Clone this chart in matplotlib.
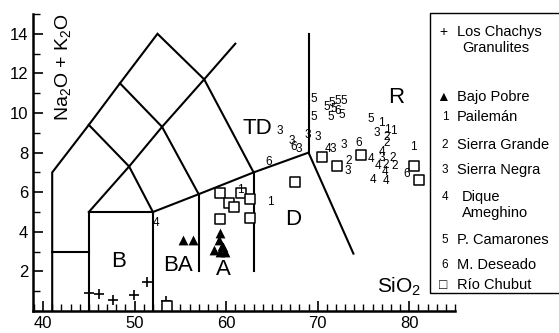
import matplotlib
matplotlib.use("Agg")
import matplotlib.pyplot as plt
from matplotlib.patches import Rectangle
from matplotlib.ticker import MultipleLocator

plt.rcParams['font.family'] = ['Liberation Sans', 'DejaVu Sans']
plt.rcParams['mathtext.fontset'] = 'custom'
plt.rcParams['mathtext.rm'] = 'Liberation Sans'
plt.rcParams['mathtext.it'] = 'Liberation Sans'

# TAS field boundaries (SiO2, Na2O+K2O)
tas_lines = [
    [(41, 0), (41, 7), (45, 9.4), (48.4, 11.5), (52.5, 14), (57.6, 11.7), (63, 7)],
    [(41, 3), (45, 3)],
    [(45, 0), (45, 5), (52, 5), (52, 0)],
    [(45, 5), (49.4, 7.3), (53, 9.3), (57.6, 11.7), (61, 13.5)],
    [(45, 9.4), (49.4, 7.3), (52, 5)],
    [(48.4, 11.5), (53, 9.3), (57, 5.9)],
    [(52, 5), (57, 5.9), (63, 7), (69, 8)],
    [(57, 5.9), (57, 2)],
    [(63, 7), (63, 2)],
    [(69, 8), (69, 14)],
    [(69, 8), (73.9, 2.9)],
]

field_names = ['B', 'BA', 'A', 'D', 'TD', 'R']
field_x = [48.2, 54.7, 59.7, 67.3, 63.4, 78.6]
field_y = [2.5, 2.3, 2.1, 4.6, 9.2, 10.8]

# Los Chachys Granulites (+)
chachys_x = [45.0, 46.1, 47.6, 49.9, 51.4, 53.4]
chachys_y = [0.9, 0.85, 0.55, 0.8, 1.45, 0.5]

# Bajo Pobre (triangles)
bajo_x = [55.3, 56.4, 59.3, 59.2, 59.6, 58.7, 59.9, 59.3, 59.7]
bajo_y = [3.6, 3.6, 3.95, 3.6, 3.3, 3.1, 3.0, 3.0, 3.25]

# Rio Chubut (squares)
chubut_x = [53.5, 59.3, 60.3, 60.9, 61.6, 62.6, 59.3, 62.6, 67.5, 70.5, 72.1, 74.7, 80.5, 81.1]
chubut_y = [0.25, 5.97, 5.47, 5.27, 5.97, 5.67, 4.66, 4.7, 6.5, 7.8, 7.3, 7.9, 7.3, 6.6]

# numbered groups
pailleman_x = [77.0, 77.6, 78.3, 80.5, 64.8, 61.5]
pailleman_y = [9.5, 9.15, 9.1, 8.3, 5.5, 6.1]
sgrande_x = [77.5, 77.5, 73.4, 78.2, 78.4, 77.4]
sgrande_y = [8.8, 8.5, 7.6, 7.75, 7.3, 7.35]
snegra_x = [65.9, 67.2, 67.9, 68.9, 70.0, 71.7, 72.8, 73.3, 76.5, 77.0]
snegra_y = [9.1, 8.6, 8.2, 8.9, 8.8, 8.2, 8.4, 7.05, 9.0, 7.75]
dique_x = [52.3, 71.1, 75.8, 77.0, 76.6, 77.3, 76.0, 77.5]
dique_y = [4.45, 8.2, 7.7, 8.05, 7.3, 7.0, 6.6, 6.55]
camarones_x = [69.6, 69.6, 71.5, 72.2, 72.9, 71.0, 71.8, 71.4, 72.6, 75.8]
camarones_y = [10.7, 9.8, 10.5, 10.6, 10.6, 10.3, 10.2, 9.8, 9.9, 9.7]
deseado_x = [64.7, 67.4, 74.5, 72.2, 79.7]
deseado_y = [7.55, 8.3, 8.5, 10.1, 6.9]

numbered = [('1', pailleman_x, pailleman_y), ('2', sgrande_x, sgrande_y),
            ('3', snegra_x, snegra_y), ('4', dique_x, dique_y),
            ('5', camarones_x, camarones_y), ('6', deseado_x, deseado_y)]

legend_labels = ['+', 'Los Chachys', 'Granulites', '\u25b2', 'Bajo Pobre',
                 '1', 'Pailemán', '2', 'Sierra Grande', '3', 'Sierra Negra',
                 '4', 'Dique', 'Ameghino', '5', 'P. Camarones', '6', 'M. Deseado',
                 '\u25a1', 'Río Chubut']

fig = plt.figure(figsize=(5.59, 3.33), dpi=100)
ax = fig.add_axes([0.059, 0.066, 0.755, 0.892])

for seg in tas_lines:
    xs = [p[0] for p in seg]
    ys = [p[1] for p in seg]
    ax.plot(xs, ys, color='black', lw=1.5, solid_joinstyle='miter')

for name, x, y in zip(field_names, field_x, field_y):
    ax.text(x, y, name, fontsize=16, ha='center', va='center')

ax.scatter(chachys_x, chachys_y, marker='+', s=50, c='black', linewidths=1.2)
ax.scatter(bajo_x, bajo_y, marker='^', s=50, c='black', linewidths=0)
ax.scatter(chubut_x, chubut_y, marker='s', s=48, facecolors='white',
           edgecolors='black', linewidths=1.1, zorder=3)

for lab, xs, ys in numbered:
    for x, y in zip(xs, ys):
        ax.text(x, y, lab, fontsize=8.5, ha='center', va='center', zorder=4)

ax.text(42.2, 12.3, r'Na$_2$O + K$_2$O', rotation=90, fontsize=14,
        ha='center', va='center')
ax.text(78.9, 1.2, r'SiO$_2$', fontsize=15, ha='center', va='center')

ax.set_xlim(38.9, 85)
ax.set_ylim(0, 15)
ax.spines['top'].set_visible(False)
ax.spines['right'].set_visible(False)
ax.spines['left'].set_linewidth(1.8)
ax.spines['bottom'].set_linewidth(1.8)
ax.xaxis.set_minor_locator(MultipleLocator(1))
ax.yaxis.set_minor_locator(MultipleLocator(1))
ax.set_xticks(range(40, 81, 10))
ax.set_yticks(range(2, 15, 2))
ax.tick_params(which='major', direction='in', length=7, width=1.2, labelsize=12)
ax.tick_params(which='minor', direction='in', length=5, width=1.0)

# legend box
fig.patches.append(Rectangle((430 / 559, 1 - 293 / 333), 0.3, (293 - 13) / 333,
                             transform=fig.transFigure, fill=False,
                             edgecolor='black', lw=1.0))

legend_rows = [
    (443, 457, 32, 0, 1), (None, 462, 48, None, 2),
    (443, 457, 97, 3, 4), (445, 457, 117, 5, 6), (445, 457, 145, 7, 8),
    (445, 457, 170, 9, 10), (445, 462, 197, 11, 12), (None, 462, 213, None, 13),
    (445, 457, 240, 14, 15), (445, 457, 265, 16, 17), (443, 457, 285, 18, 19),
]
for mx, tx, py, mi, ti in legend_rows:
    if mi is not None:
        sym = legend_labels[mi]
        fs = 8.5 if sym.isdigit() else 10
        fig.text(mx / 559, 1 - py / 333, sym, fontsize=fs, ha='center', va='center')
    fig.text(tx / 559, 1 - py / 333, legend_labels[ti], fontsize=10.5,
             ha='left', va='center')

fig.savefig('out.png', dpi=100)
